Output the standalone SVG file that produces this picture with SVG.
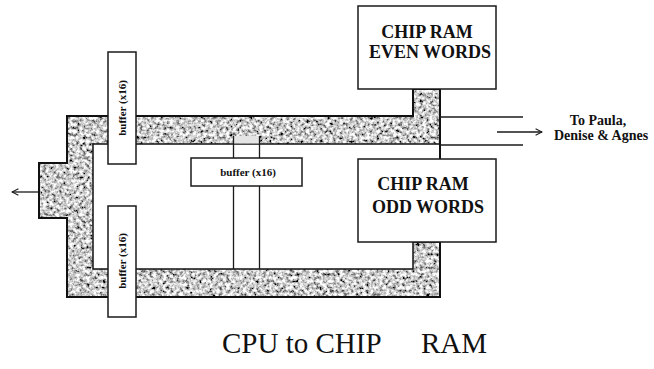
<svg xmlns="http://www.w3.org/2000/svg" width="654" height="369" viewBox="0 0 654 369">
<style>
.box{fill:#fff;stroke:#1a1a1a;stroke-width:1.5}
.ln{fill:none;stroke:#1a1a1a;stroke-width:1.3}
.ram{font-family:"Liberation Serif","Times New Roman",serif;font-weight:bold;font-size:18px;fill:#111;text-anchor:middle}
.buf{font-family:"Liberation Serif","Times New Roman",serif;font-weight:bold;font-size:11px;fill:#111;text-anchor:middle}
.note{font-family:"Liberation Serif","Times New Roman",serif;font-weight:bold;font-size:14px;fill:#111}
.title{font-family:"Liberation Serif","Times New Roman",serif;font-size:29px;fill:#111}
</style>
<defs>
<filter id="stipple" x="0" y="0" width="1" height="1" filterUnits="objectBoundingBox">
<feTurbulence type="fractalNoise" baseFrequency="0.3" numOctaves="3" seed="7" result="n"/>
<feColorMatrix in="n" type="matrix" values="2.2 0 0 0 -0.5  2.2 0 0 0 -0.5  2.2 0 0 0 -0.5  0 0 0 0 1" result="g"/>
<feComposite in="g" in2="SourceGraphic" operator="in"/>
</filter>
<marker id="open" viewBox="0 0 10 10" refX="9" refY="5" markerWidth="8" markerHeight="8" markerUnits="userSpaceOnUse" orient="auto">
<path d="M1,1 L9,5 L1,9" fill="none" stroke="#1a1a1a" stroke-width="1.3"/>
</marker>
</defs>
<rect width="654" height="369" fill="#fff"/>

<g id="bus">
<path d="M67,116 H413 V89 H440 V297 H67 V218 H39 V163 H67 Z M93,144 V269 H413 V242 H440 V144 Z" fill="#000" fill-rule="evenodd" filter="url(#stipple)"/>
<path d="M67,116 H413 V89 H440 V297 H67 V218 H39 V163 H67 Z" fill="none" stroke="#111" stroke-width="2"/>
<path d="M440,144 H93 V269 H413 V242 H440" fill="none" stroke="#111" stroke-width="1.5"/>
<rect x="234" y="136" width="25" height="7.5" fill="#e4e4e4"/>
</g>

<g id="connectors">
<line class="ln" x1="233.5" y1="136" x2="233.5" y2="158"/>
<line class="ln" x1="259.5" y1="136" x2="259.5" y2="158"/>
<line class="ln" x1="233.5" y1="186" x2="233.5" y2="269"/>
<line class="ln" x1="259.5" y1="186" x2="259.5" y2="269"/>
<line class="ln" x1="440" y1="117" x2="523" y2="117"/>
<line class="ln" x1="440" y1="145" x2="523" y2="145"/>
<line class="ln" x1="497" y1="132" x2="542" y2="132" marker-end="url(#open)"/>
<line class="ln" x1="38" y1="192" x2="12" y2="192" marker-end="url(#open)"/>
</g>

<g id="buffer-top">
<rect class="box" x="108" y="52" width="28" height="112"/>
<text class="buf" transform="translate(126,108) rotate(-90)">buffer (x16)</text>
</g>

<g id="buffer-bottom">
<rect class="box" x="108" y="206" width="28" height="111"/>
<text class="buf" transform="translate(126,261) rotate(-90)">buffer (x16)</text>
</g>

<g id="buffer-middle">
<rect class="box" x="191" y="158" width="111" height="28"/>
<text class="buf" x="248" y="176">buffer (x16)</text>
</g>

<g id="ram-even">
<rect class="box" x="358" y="6" width="138" height="83"/>
<text class="ram" x="427" y="38">CHIP RAM</text>
<text class="ram" x="430" y="58">EVEN WORDS</text>
</g>

<g id="ram-odd">
<rect class="box" x="358" y="159" width="138" height="83"/>
<text class="ram" x="423" y="190">CHIP RAM</text>
<text class="ram" x="428" y="213">ODD WORDS</text>
</g>

<g id="dest-label">
<text class="note" x="598" y="125" text-anchor="middle">To Paula,</text>
<text class="note" x="554" y="140">Denise &amp; Agnes</text>
</g>

<g id="title">
<text class="title" y="353"><tspan x="222">CPU to CHIP</tspan><tspan x="487" text-anchor="end">RAM</tspan></text>
</g>
</svg>
